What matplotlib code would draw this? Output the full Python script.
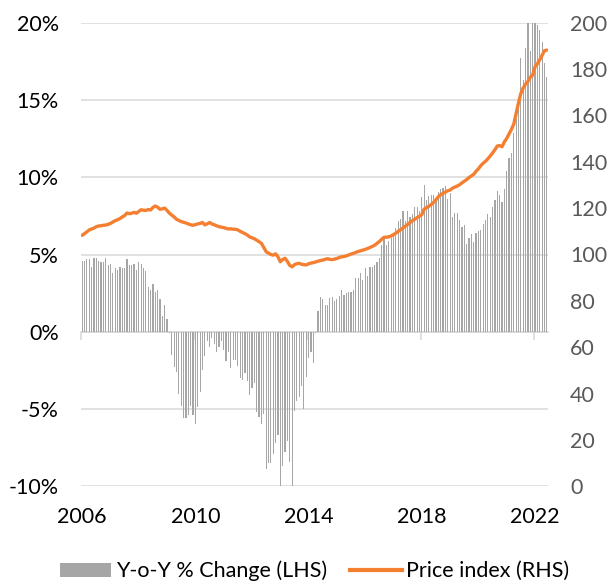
import matplotlib
matplotlib.use("Agg")
import matplotlib.pyplot as plt
from matplotlib.patches import Patch
from matplotlib.lines import Line2D
import numpy as np

plt.rcParams['font.family'] = ['Lato', 'DejaVu Sans']

# Monthly data, Jan 2006 - Jun 2022
yoy_change = [
    # 2006-2009 (first 50 months)
    4.56, 4.6, 4.7, 4.7, 4.2, 4.8, 4.8, 4.6, 4.5, 4.5, 4.8, 4.3,
    4.4, 3.8, 4.1, 4.0, 4.2, 4.1, 4.1, 4.7, 4.3, 4.3, 4.4, 4.0,
    4.5, 4.4, 4.1, 3.9, 2.9, 2.7, 3.1, 2.6, 2.7, 2.1, 1.05, 1.7,
    0.8, -0.05, -1.5, -2.3, -2.6, -4.0, -4.8, -5.6, -5.6, -5.4, -4.8, -5.4,
    -6.0, -4.9,
    # months 50-99
    -3.9, -2.5, -1.6, -0.6, -1.0, -0.4, -0.8, -1.3, -1.0, -0.6,
    -1.15, -1.9, -1.3, -2.35, -1.8, -1.8, -2.2, -3.0, -3.1, -2.7,
    -3.2, -4.1, -3.65, -3.3, -5.2, -5.5, -6.0, -5.3, -8.9, -8.5,
    -8.5, -7.9, -7.2, -6.7, -10.2, -8.7, -7.8, -7.1, -8.4, -10.0,
    -5.1, -4.5, -4.2, -3.5, -5.0, -2.9, -1.7, -1.3, -2.0, -0.1,
    # months 100-151
    1.36, 2.26, 2.15, 1.7, 1.7, 2.2, 2.26, 2.0, 2.1, 2.3,
    2.7, 2.4, 2.5, 2.55, 2.6, 2.7, 3.45, 3.45, 3.8, 3.35,
    4.1, 3.6, 4.2, 4.2, 4.3, 4.5, 4.8, 5.6, 6.0, 5.6,
    5.9, 6.1, 6.25, 6.7, 7.2, 7.3, 7.8, 7.2, 7.8, 7.4,
    7.65, 8.1, 8.1, 7.8, 8.7, 9.5, 8.5, 8.8, 8.85, 8.85,
    8.5, 9.05,
    # months 152-197
    9.25, 9.3, 9.45, 8.6, 8.95, 7.45, 7.7, 7.7, 7.25, 6.8,
    6.9, 5.7, 6.1, 6.3, 5.8, 6.4, 6.5, 6.6, 6.95, 7.25,
    7.6, 7.4, 8.1, 8.5, 9.1, 8.85, 8.4, 9.25, 10.4, 11.25,
    11.55, 12.85, 13.8, 15.2, 17.7, 16.3, 18.35, 21.0, 18.2, 21.0,
    21.0, 19.85, 19.5, 18.75, 17.4, 16.5,
]

price_index = [
    108.3, 109.0, 109.8, 110.6, 111.0, 111.4, 112.0, 112.3, 112.4, 112.6, 112.7, 113.0,  # 2006
    113.4, 114.0, 114.6, 115.0, 115.5, 116.2, 116.8, 117.9, 117.6, 117.8, 118.2, 117.8,  # 2007
    118.6, 119.3, 119.1, 119.0, 119.4, 119.2, 120.3, 120.9, 120.4, 119.5, 119.7, 120.0,  # 2008
    119.0, 117.8, 117.0, 116.2, 115.2, 114.7, 114.2, 113.9, 113.6, 113.2, 112.8, 112.6,  # 2009
    112.9, 113.2, 113.4, 113.8, 112.8, 113.2, 113.8, 113.2, 112.8, 112.4, 112.0, 111.8,  # 2010
    111.6, 111.3, 111.0, 111.1, 110.9, 110.9, 110.6, 110.0, 109.5, 109.0, 108.4, 107.6,  # 2011
    107.2, 106.8, 106.2, 105.5, 104.8, 103.0, 101.2, 100.6, 100.0, 99.7, 100.3, 99.0,    # 2012
    96.9, 97.8, 98.4, 97.0, 95.3, 94.7, 95.6, 96.0, 96.2, 95.8, 95.6, 95.5,              # 2013
    96.0, 96.3, 96.5, 96.8, 97.1, 97.4, 97.6, 97.9, 98.2, 97.9, 97.8, 98.0,              # 2014
    98.3, 98.7, 99.0, 99.1, 99.4, 99.8, 100.2, 100.5, 100.9, 101.3, 101.6, 101.9,        # 2015
    102.2, 102.6, 103.0, 103.5, 104.0, 104.8, 105.6, 106.6, 107.4, 107.5, 107.6, 108.0,  # 2016
    108.6, 109.2, 110.0, 110.7, 111.4, 112.2, 113.0, 113.8, 114.6, 115.2, 115.9, 116.5,  # 2017
    117.2, 119.6, 120.2, 120.8, 121.6, 122.5, 123.6, 124.9, 125.8, 126.4, 126.9, 127.5,  # 2018
    127.8, 128.6, 129.1, 129.5, 130.1, 130.9, 131.6, 132.3, 133.2, 133.9, 134.6, 135.9,  # 2019
    137.0, 138.3, 139.4, 140.2, 141.3, 142.5, 143.8, 145.2, 146.8, 147.0, 146.5, 148.6,  # 2020
    150.1, 152.1, 154.0, 156.3, 161.0, 165.5, 169.5, 171.9, 173.5, 174.7, 176.5, 177.4,  # 2021
    181.0, 182.3, 184.0, 186.0, 187.9, 188.2,                                            # 2022
]

year_labels = ['2006', '2010', '2014', '2018', '2022']
label_months = [0, 48, 96, 144, 192]
left_ticks = [-10, -5, 0, 5, 10, 15, 20]
right_ticks = [0, 20, 40, 60, 80, 100, 120, 140, 160, 180, 200]

bar_color = '#a6a6a6'
line_color = '#F47F30'
grid_color = '#d9d9d9'

n = len(yoy_change)
x = np.arange(n)

fig = plt.figure(figsize=(6.16, 5.83), dpi=100)
ax = fig.add_axes([81/616, 1-486.3/583, (548-81)/616, (486.3-22.7)/583])
ax.set_axisbelow(True)
ax.bar(x, yoy_change, width=0.5, color=bar_color, linewidth=0)
ax.set_xlim(-0.5, n - 0.5)
ax.set_ylim(-10, 20)
ax.set_yticks(left_ticks)
ax.set_yticklabels([f'{v}%' for v in left_ticks])
ax.yaxis.grid(True, color=grid_color, linewidth=1.1)
ax.set_xticks(label_months)
ax.set_xticklabels(year_labels)
ax.tick_params(axis='x', length=0, pad=15, labelsize=15.5, labelcolor='#000000')
ax.tick_params(axis='y', length=0, pad=16, labelsize=15.5, labelcolor='#000000')
for s in ax.spines.values():
    s.set_visible(False)

# category axis at zero with tick marks between categories
sec = ax.secondary_xaxis(1/3)
sec.set_xticks([m - 0.5 for m in label_months])
sec.set_xticklabels([])
sec.tick_params(axis='x', length=6, width=1.1, color=grid_color, direction='out')
sec.spines['bottom'].set_color(grid_color)
sec.spines['bottom'].set_linewidth(1.1)

ax2 = ax.twinx()
ax2.plot(x, price_index, color=line_color, linewidth=2.4, solid_capstyle='round')
ax2.set_ylim(0, 200)
ax2.set_yticks(right_ticks)
ax2.tick_params(axis='y', length=0, pad=16, labelsize=15.5, labelcolor='#595959')
for s in ax2.spines.values():
    s.set_visible(False)

handles = [Patch(facecolor=bar_color, edgecolor='none', label='Y-o-Y % Change (LHS)'),
           Line2D([], [], color=line_color, linewidth=3, label='Price index (RHS)')]
fig.legend(handles=handles, loc='center', bbox_to_anchor=(314.5/616, 1-571/583),
           ncol=2, frameon=False, fontsize=15.5, handlelength=2.4, handleheight=0.6,
           handletextpad=0.2, columnspacing=1.1, borderaxespad=0, borderpad=0)

fig.savefig('out.png', dpi=100)
